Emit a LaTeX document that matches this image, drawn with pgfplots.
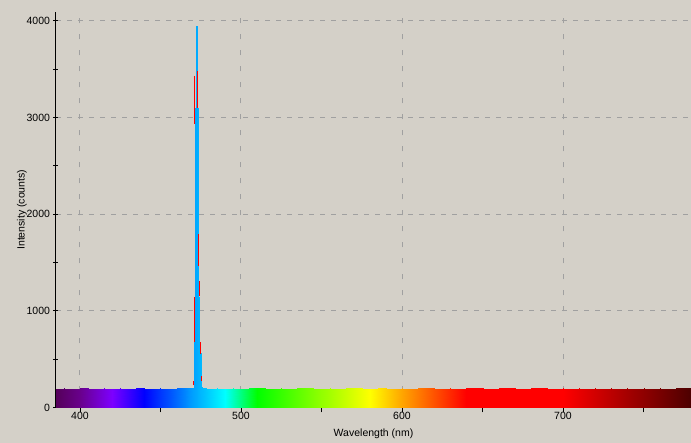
\documentclass[border=0pt]{standalone}
\usepackage{pgfplots}
\pgfplotsset{compat=1.18}
\usepackage{fontspec}
\setmainfont{Liberation Sans}
\definecolor{panel}{RGB}{212,208,200}
\definecolor{gridgray}{RGB}{160,160,160}
\definecolor{trace}{RGB}{255,0,0}

\begin{document}
\begin{tikzpicture}
% page and panel: 691 x 443, plot box at (56,35.5) size 635 x 395.5
\path[use as bounding box, fill=panel] (-56pt,-35.5pt) rectangle (635pt,407.5pt);
\begin{axis}[
    at={(0pt,0pt)}, anchor=south west,
    scale only axis, width=635pt, height=395.5pt,
    xmin=385.1, xmax=779.5, ymin=0, ymax=4090,
    axis x line*=bottom, axis y line*=left,
    axis line style={black, line width=1pt},
    xtick={400,500,600,700}, minor xtick={450,550,650,750},
    ytick={0,1000,2000,3000,4000}, minor ytick={500,1500,2500,3500},
    ytick align=center, xtick align=outside,
    major tick length=5pt, minor tick length=5pt,
    tick style={black, line width=0.8pt},
    x tick label style={yshift=4pt},
    xmajorgrids, ymajorgrids,
    grid style={gridgray, line width=1pt},
    x grid style={dash pattern=on 5pt off 11pt},
    y grid style={dash pattern=on 5pt off 6pt},
    font=\fontsize{10.5}{12}\selectfont,
    /pgf/number format/assume math mode=true,
    /pgf/number format/1000 sep={},
    scaled ticks=false,
    unbounded coords=jump,
    xlabel={Wavelength (nm)}, ylabel={Intensity (counts)},
    every axis x label/.style={at={(axis description cs:0.5,0)}, anchor=center, yshift=-26pt},
    every axis y label/.style={at={(axis description cs:-0.0535,0.5)}, anchor=center, rotate=90},
    colormap={spectrum}{
        rgb255(385pt)=(85,0,90)
        rgb255(400pt)=(105,0,140)
        rgb255(420pt)=(125,0,255)
        rgb255(440pt)=(0,0,255)
        rgb255(470pt)=(0,160,255)
        rgb255(490pt)=(0,255,255)
        rgb255(510pt)=(0,255,0)
        rgb255(580pt)=(255,255,0)
        rgb255(600pt)=(255,165,0)
        rgb255(640pt)=(255,0,0)
        rgb255(700pt)=(255,0,0)
        rgb255(780pt)=(75,0,0)
    },
    point meta min=385, point meta max=780,
]
% spectrum filled with the wavelength colour: pairs (x,0) (x,counts)
\addplot[surf, shader=interp, mesh/ordering=y varies, mesh/rows=2,
    point meta=x] coordinates {
    (385,0)(385,196) (390,0)(390,199) (395,0)(395,194) (400,0)(400,200)
    (405,0)(405,197) (410,0)(410,195) (415,0)(415,201) (420,0)(420,196)
    (425,0)(425,198) (430,0)(430,194) (435,0)(435,200) (440,0)(440,197)
    (445,0)(445,195) (450,0)(450,199) (455,0)(455,196) (460,0)(460,200)
    (465,0)(465,197) (468,0)(468,198) (470.3,0)(470.3,200)
    (470.7,0)(470.7,220) (470.85,0)(470.85,1140) (471.35,0)(471.35,1140)
    (471.4,0)(471.4,3100) (471.95,0)(471.95,3100) (472.0,0)(472.0,3950)
    (472.4,0)(472.4,3950) (472.45,0)(472.45,3100) (473.3,0)(473.3,3100)
    (473.35,0)(473.35,1140) (473.85,0)(473.85,1140) (473.9,0)(473.9,560)
    (475.1,0)(475.1,560) (475.15,0)(475.15,225) (475.6,0)(475.6,202)
    (478,0)(478,198) (480,0)(480,196) (485,0)(485,200) (490,0)(490,195)
    (495,0)(495,198) (500,0)(500,196) (505,0)(505,200) (510,0)(510,197)
    (515,0)(515,202) (520,0)(520,196) (525,0)(525,199) (530,0)(530,195)
    (535,0)(535,200) (540,0)(540,197) (545,0)(545,201) (550,0)(550,196)
    (555,0)(555,199) (560,0)(560,195) (565,0)(565,202) (570,0)(570,197)
    (575,0)(575,200) (580,0)(580,196) (585,0)(585,198) (590,0)(590,201)
    (595,0)(595,195) (600,0)(600,198) (605,0)(605,196) (610,0)(610,200)
    (615,0)(615,197) (620,0)(620,202) (625,0)(625,196) (630,0)(630,199)
    (635,0)(635,195) (640,0)(640,201) (645,0)(645,197) (650,0)(650,203)
    (655,0)(655,196) (660,0)(660,202) (665,0)(665,198) (670,0)(670,200)
    (675,0)(675,196) (680,0)(680,201) (685,0)(685,197) (690,0)(690,199)
    (695,0)(695,195) (700,0)(700,200) (705,0)(705,196) (710,0)(710,198)
    (715,0)(715,195) (720,0)(720,200) (725,0)(725,196) (730,0)(730,198)
    (735,0)(735,195) (740,0)(740,199) (745,0)(745,196) (750,0)(750,200)
    (755,0)(755,195) (760,0)(760,198) (765,0)(765,196) (770,0)(770,199)
    (775,0)(775,197) (780,0)(780,198)
};
% second trace: only its steep steps show beside the first
\addplot[trace, line width=1pt] coordinates {
    (470.2,230) (470.2,272) (470.2,nan)
    (470.9,675) (470.9,1141) (470.9,nan)
    (471.4,2934) (471.4,3433) (471.4,nan)
    (472.95,3095) (472.95,3475) (472.95,nan)
    (473.6,1468) (473.6,1789) (473.6,nan)
    (474.2,1148) (474.2,1303) (474.2,nan)
    (474.85,558) (474.85,682) (474.85,nan)
    (475.5,272) (475.5,324)
};
\end{axis}
\end{tikzpicture}
\end{document}
